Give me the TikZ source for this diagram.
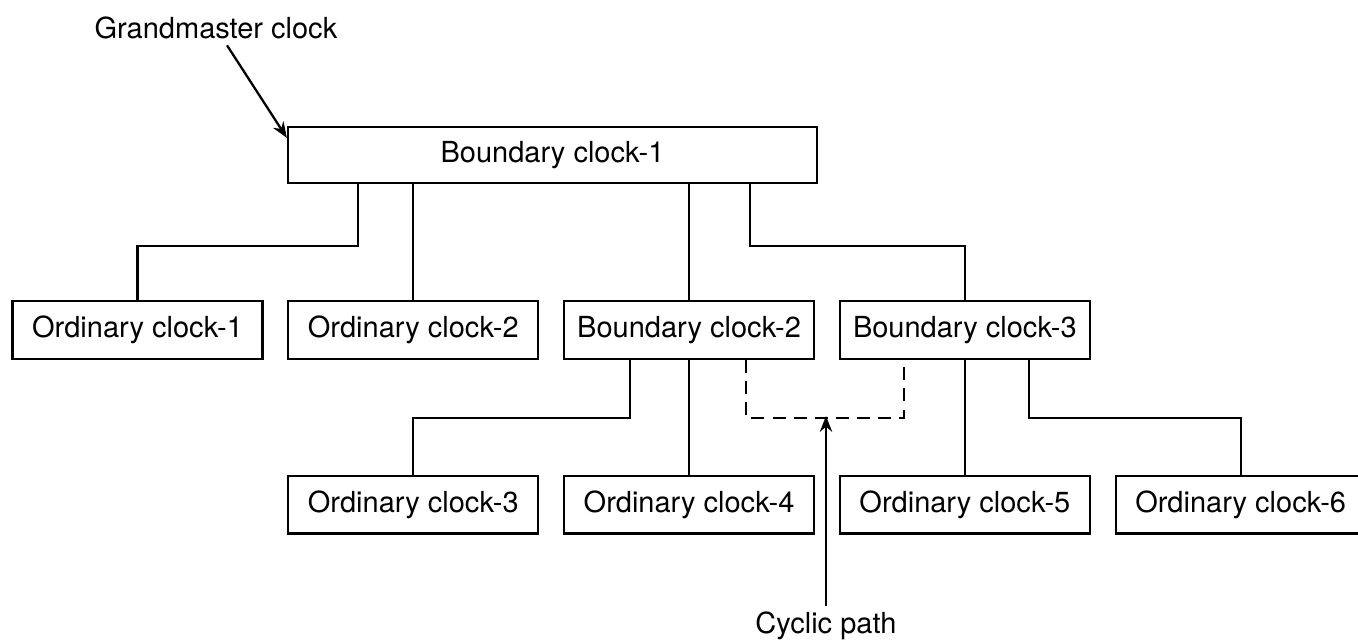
\documentclass[tikz,border=0pt]{standalone}
\usepackage{fontspec}
\setmainfont{TeX Gyre Heros}
\usetikzlibrary{arrows.meta,positioning}

\begin{document}
\begin{tikzpicture}[
  font=\fontsize{16.5}{19}\selectfont,
  clk/.style={draw,line width=1.3pt,minimum width=5cm,minimum height=1.15cm,inner sep=0pt},
  link/.style={line width=1.3pt},
  >={Stealth[length=9pt,width=7pt]}]
\useasboundingbox (0,0) rectangle (27.16,12.78);
% top
\node[clk,minimum width=10.58cm,minimum height=1.12cm] (bc1) at (11.05,9.68) {Boundary clock-1};
\node (gm) at (4.32,12.22) {Grandmaster clock};
% second row
\node[clk] (oc1) at (2.75,6.18) {Ordinary clock-1};
\node[clk,right=0.47cm of oc1] (oc2) {Ordinary clock-2};
\node[clk,right=0.47cm of oc2] (bc2) {Boundary clock-2};
\node[clk,right=0.47cm of bc2] (bc3) {Boundary clock-3};
% third row
\node[clk,below=2.3cm of oc2] (oc3) {Ordinary clock-3};
\node[clk,right=0.47cm of oc3] (oc4) {Ordinary clock-4};
\node[clk,right=0.47cm of oc4] (oc5) {Ordinary clock-5};
\node[clk,right=0.47cm of oc5] (oc6) {Ordinary clock-6};
\node (cyc) at (16.52,0.26) {Cyclic path};
% links
\draw[link] ([xshift=1.42cm]bc1.south west) -- ++(0,-1.24) -| (oc1.north);
\draw[link] (bc1.south -| oc2.north) -- (oc2.north);
\draw[link] (bc1.south -| bc2.north) -- (bc2.north);
\draw[link] ([xshift=-1.36cm]bc1.south east) -- ++(0,-1.24) -| (bc3.north);
\draw[link] ([xshift=1.34cm]bc2.south west) -- ++(0,-1.16) -| (oc3.north);
\draw[link] (bc2.south) -- (oc4.north);
\draw[link] (bc3.south) -- (oc5.north);
\draw[link] ([xshift=-1.24cm]bc3.south east) -- ++(0,-1.16) -| (oc6.north);
\draw[link,dash pattern=on 7.4pt off 4.6pt] ([xshift=-1.38cm]bc2.south east) -- ++(0,-1.16)
  -| ([xshift=1.3cm]bc3.south west);
\coordinate (cyctip) at (16.52,4.46);
\draw[link,->] (cyc.north) -- (cyctip);
\draw[link,->] ([xshift=0.22cm]gm.south) -- ([yshift=-0.24cm]bc1.north west);
\end{tikzpicture}
\end{document}
